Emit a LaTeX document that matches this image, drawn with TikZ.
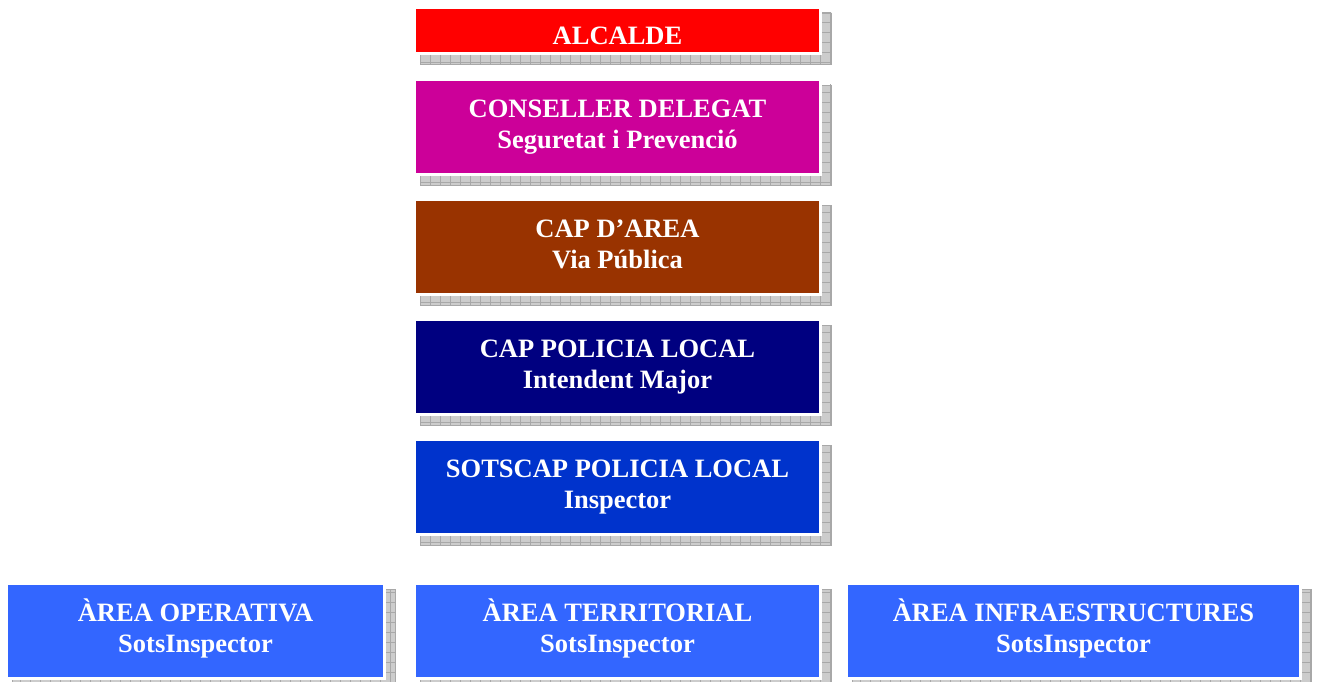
\documentclass[tikz,border=0pt]{standalone}
\usepackage{fontspec}
\setmainfont{Liberation Serif}
\usetikzlibrary{backgrounds,patterns.meta}
\definecolor{cRed}{HTML}{FF0000}
\definecolor{cMag}{HTML}{CC0099}
\definecolor{cBrown}{HTML}{993300}
\definecolor{cNavy}{HTML}{000080}
\definecolor{cBlue}{HTML}{0033CC}
\definecolor{cLight}{HTML}{3366FF}
\definecolor{cShadow}{HTML}{CCCCCC}
\definecolor{cShadowLine}{HTML}{A8A8A8}
\tikzset{
  orgbox/.style={rectangle, draw=white, line width=3pt, inner sep=0pt, outer sep=0pt,
    minimum width=406pt, minimum height=95pt, align=center, text=white,
    text height=43pt, text depth=0pt,
    font=\fontsize{26.5}{31.5}\selectfont\bfseries},
  shadowbox/.style={fill=cShadow, draw=cShadowLine, line width=0.8pt,
    postaction={pattern={Lines[distance=10pt,angle=90,line width=0.5pt]}, pattern color=cShadowLine},
    postaction={pattern={Lines[distance=10pt,angle=0,line width=0.5pt]}, pattern color=cShadowLine}},
}
\begin{document}
\begin{tikzpicture}[x=1pt,y=-1pt]
\useasboundingbox (0,0) rectangle (1317,682);
\node[orgbox, fill=cRed, minimum height=46pt, text height=29pt, text depth=0pt] (alc) at (617.5,30.5) {ALCALDE};
\node[orgbox, fill=cMag] (cons) at (617.5,127) {CONSELLER DELEGAT\\Seguretat i Prevenció};
\node[orgbox, fill=cBrown] (cap) at (617.5,247) {CAP D’AREA\\Via Pública};
\node[orgbox, fill=cNavy] (pol) at (617.5,367) {CAP POLICIA LOCAL\\Intendent Major};
\node[orgbox, fill=cBlue] (sots) at (617.5,487) {SOTSCAP POLICIA LOCAL\\Inspector};
\node[orgbox, fill=cLight, minimum width=378pt] (oper) at (195.5,631) {ÀREA OPERATIVA\\SotsInspector};
\node[orgbox, fill=cLight] (terr) at (617.5,631) {ÀREA TERRITORIAL\\SotsInspector};
\node[orgbox, fill=cLight, minimum width=454pt] (infra) at (1073.5,631) {ÀREA INFRAESTRUCTURES\\SotsInspector};
\begin{scope}[on background layer]
\foreach \n in {alc,cons,cap,pol,sots,oper,terr,infra}
  \path[shadowbox] ([shift={(5.5,5.5)}]\n.north west) rectangle ([shift={(10.5,10.5)}]\n.south east);
\end{scope}
\end{tikzpicture}
\end{document}
